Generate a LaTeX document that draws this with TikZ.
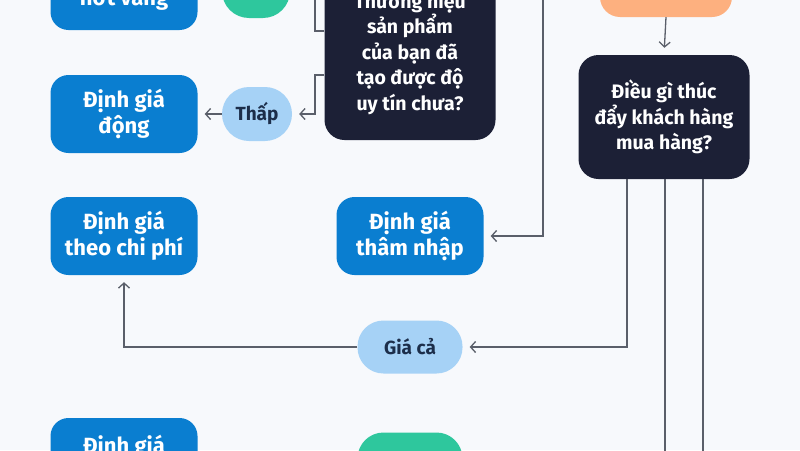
\documentclass[tikz,border=0pt]{standalone}
\usepackage{fontspec}
\setmainfont{Fira Sans}
\usetikzlibrary{arrows.meta}
\definecolor{bgcol}{RGB}{247,249,252}
\definecolor{dgblue}{RGB}{10,126,208}
\definecolor{navy}{RGB}{28,32,54}
\definecolor{pillblue}{RGB}{166,210,246}
\definecolor{mint}{RGB}{46,199,157}
\definecolor{peach}{RGB}{253,176,127}
\definecolor{wire}{RGB}{90,95,106}
\definecolor{pilltext}{RGB}{28,46,74}

\begin{document}
\begin{tikzpicture}[x=1pt,y=-1pt,
  dgbox/.style={fill=dgblue, rounded corners=18pt, text=white, align=center, inner sep=0pt,
    font=\bfseries\fontsize{22}{26}\selectfont, minimum width=147pt, minimum height=78pt},
  askbox/.style={fill=navy, rounded corners=20pt, text=white, align=center, inner sep=0pt,
    font=\bfseries\fontsize{19.5}{25.5}\selectfont, minimum width=171pt},
  pill/.style={fill=pillblue, rounded corners=26pt, text=pilltext, inner sep=0pt,
    font=\bfseries\fontsize{19}{22}\selectfont, minimum height=53pt},
  link/.style={draw=wire, line width=1.3pt},
  arr/.style={link, -{Straight Barb[length=5pt,width=11pt]}, shorten >=7pt}]
\useasboundingbox[fill=bgcol] (0,0) rectangle (800,450);

\node[dgbox] (dg0) at (124,-9){\mbox{}\\[8pt]hớt váng};
\node[dgbox] (dg1) at (124,114){Định giá\\động};
\node[dgbox] (dg2) at (124,236){Định giá\\theo chi phí};
\node[dgbox] (dg3) at (410,236){Định giá\\thâm nhập};
\node[dgbox] (dg4) at (124,457){Định giá\\\mbox{}};

\node[pill, fill=mint, minimum width=68pt, minimum height=54pt, rounded corners=27pt] (p0) at (256,-9){};
\node[pill, minimum width=70pt, minimum height=54pt, rounded corners=27pt] (p1) at (257,114){Thấp};
\node[pill, minimum width=105pt] (p2) at (410,347){Giá cả};
\node[pill, fill=mint, minimum width=105pt] (p3) at (410,459){};

\node[fill=peach, rounded corners=20pt, minimum width=132pt, minimum height=60pt] (o0) at (666,-13){};

\node[askbox, minimum height=173pt] (q0) at (410,53.5){Thương hiệu\\sản phẩm\\của bạn đã\\tạo được độ\\uy tín chưa?};
\node[askbox, minimum height=124pt] (q1) at (664,117){Điều gì thúc\\đẩy khách hàng\\mua hàng?};

\coordinate (up0) at (543,-20);
\coordinate (dn0) at (665,470);
\coordinate (dn1) at (703,470);

\draw[arr](q0.west |- 0,31) -| (315,-9) -- (p0.east);
\draw[arr](q0.west |- 0,75) -| (315,114) -- (p1.east);
\draw[arr](p1.west) -- (dg1.east);
\draw[arr](up0) |- (dg3.east);
\draw[arr](o0.south) -- (q1.north);
\draw[arr](q1.south -| 627,0) |- (p2.east);
\draw[arr](p2.west) -| (dg2.south);
\draw[link](q1.south -| dn0) -- (dn0);
\draw[link](q1.south -| dn1) -- (dn1);

\end{tikzpicture}
\end{document}
